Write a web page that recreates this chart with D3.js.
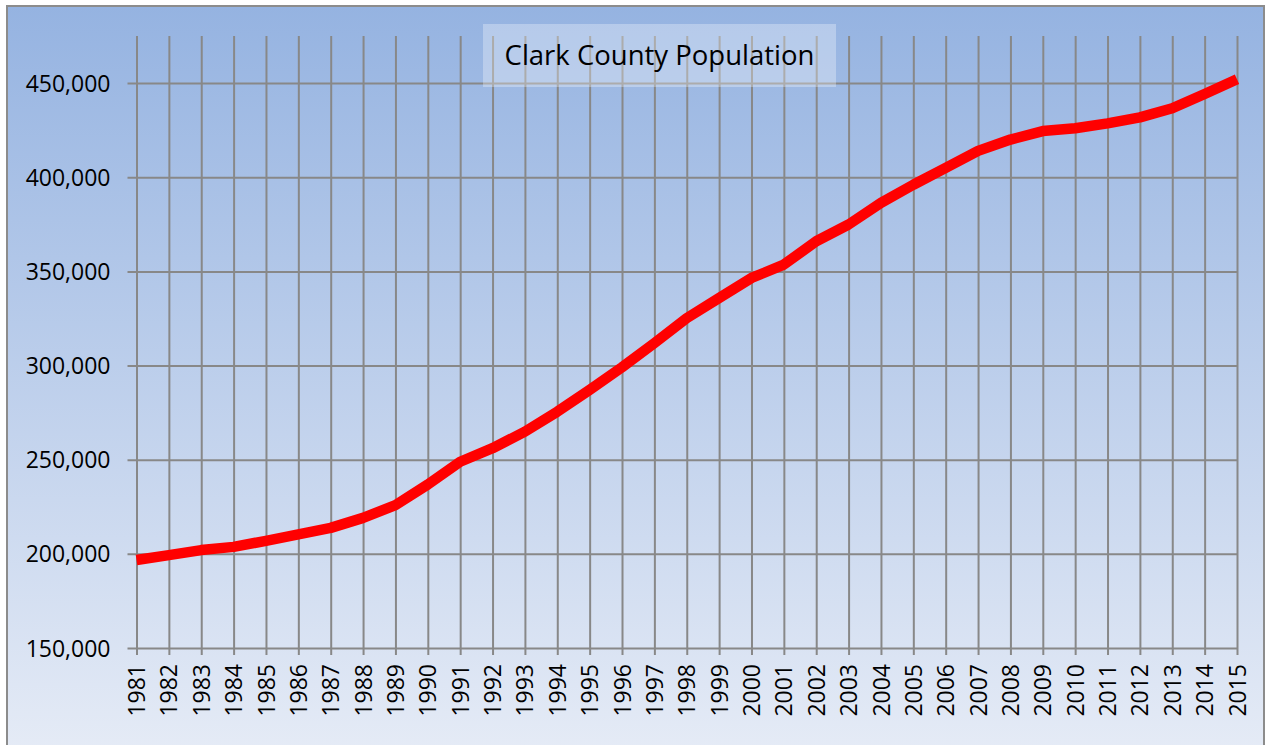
<!DOCTYPE html>
<html>
<head>
<meta charset="utf-8">
<script src="https://cdn.jsdelivr.net/npm/d3@7"></script>
<style>
  html, body { margin: 0; padding: 0; background: #ffffff; }
  svg { display: block; }
  text { font-family: "Open Sans", "Noto Sans", sans-serif; fill: #000; }
</style>
</head>
<body>
<svg id="chart" width="1267" height="745"></svg>
<script>
const years = [1981,1982,1983,1984,1985,1986,1987,1988,1989,1990,1991,1992,1993,1994,1995,1996,1997,1998,1999,2000,2001,2002,2003,2004,2005,2006,2007,2008,2009,2010,2011,2012,2013,2014,2015];
const population = [196700,199300,202000,203700,206900,210300,213800,219100,225900,236800,248900,256100,264900,275500,287100,299100,311900,325200,335900,346500,353600,366000,374900,386400,396000,405000,414000,420000,424500,426000,428600,431800,436600,444200,452000];
const yTicks = [150000,200000,250000,300000,350000,400000,450000];
const chartTitle = "Clark County Population";

(function(){
const svg = d3.select("#chart");

// background gradient
const defs = svg.append("defs");
const grad = defs.append("linearGradient").attr("id","bg").attr("x1",0).attr("y1",0).attr("x2",0).attr("y2",1);
grad.append("stop").attr("offset","0%").attr("stop-color","#95b3e1");
grad.append("stop").attr("offset","100%").attr("stop-color","#e5ebf6");

svg.append("rect").attr("x",7).attr("y",6).attr("width",1257).attr("height",745)
  .attr("fill","url(#bg)").attr("stroke","#8c8c8c").attr("stroke-width",2);

const pLeft = 136.5, pRight = 1237, pTop = 36, pBottom = 648;
const x = d3.scalePoint().domain(years).range([pLeft, pRight]);
const y = d3.scaleLinear().domain([150000, 475000]).range([pBottom, pTop]);

const gridColor = "#888888";

// horizontal gridlines + y ticks
const yAxis = d3.axisLeft(y).tickValues(yTicks).tickSize(-(pRight-pLeft)).tickPadding(18)
  .tickFormat(d3.format(","));
const gy = svg.append("g").attr("transform",`translate(${pLeft},0)`).call(yAxis);
gy.select(".domain").remove();
gy.selectAll(".tick line").attr("stroke",gridColor).attr("stroke-width",2).attr("x1",-9);
gy.selectAll(".tick text").attr("font-size",23).attr("font-family","'Open Sans', sans-serif").attr("dy","0.35em").attr("x",-26);

// vertical gridlines + x ticks
const xAxis = d3.axisBottom(x).tickSize(0);
const gx = svg.append("g").attr("transform",`translate(0,${pBottom})`).call(xAxis);
gx.select(".domain").remove();
gx.selectAll(".tick line").attr("stroke",gridColor).attr("stroke-width",2)
  .attr("y1",7).attr("y2",-(pBottom-pTop));
gx.selectAll(".tick text")
  .attr("font-size",23).attr("font-family","'Open Sans', sans-serif")
  .attr("transform","rotate(-90)")
  .attr("text-anchor","end")
  .attr("x",-16).attr("y",0).attr("dy","0.35em");

// line
const line = d3.line().x((d,i)=>x(years[i])).y(d=>y(d));
svg.append("path").datum(population)
  .attr("d",line).attr("fill","none").attr("stroke","#ff0000")
  .attr("stroke-width",10.5).attr("stroke-linejoin","round").attr("stroke-linecap","butt");

// title box
svg.append("rect").attr("x",483).attr("y",24).attr("width",353).attr("height",63)
  .attr("fill","#ffffff").attr("fill-opacity",0.3);
svg.append("text").attr("x",659.5).attr("y",65).attr("text-anchor","middle")
  .attr("font-size",27.5).text(chartTitle);
})();
</script>
</body>
</html>
